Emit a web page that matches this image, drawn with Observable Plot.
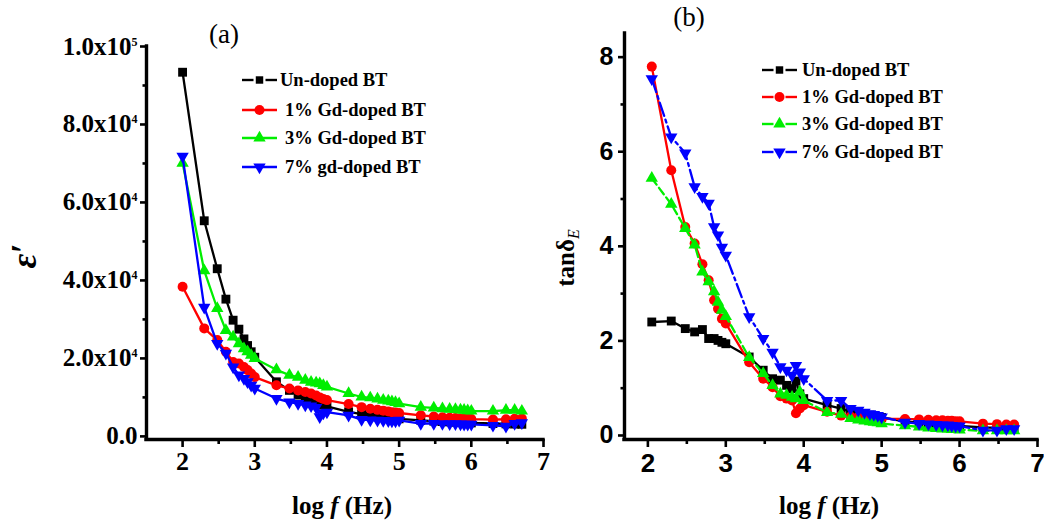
<!DOCTYPE html>
<html><head><meta charset="utf-8">
<script src="https://cdn.jsdelivr.net/npm/d3@7"></script>
<script src="https://cdn.jsdelivr.net/npm/@observablehq/plot@0.6"></script>
<style>
html,body{margin:0;padding:0;background:#fff;}
#wrap{position:relative;width:1044px;height:524px;overflow:hidden;background:#fff;}
#pa{position:absolute;left:0;top:0;}
#pb{position:absolute;left:550px;top:0;}
</style></head><body><div id="wrap"><div id="pa"></div><div id="pb"></div></div>
<script>
// ---- data ----
const logF = [2, 2.3, 2.48, 2.6, 2.7, 2.78, 2.85, 2.9, 2.95, 3,
  3.3, 3.48, 3.6, 3.7, 3.78, 3.85, 3.9, 3.95, 4,
  4.3, 4.48, 4.6, 4.7, 4.78, 4.85, 4.9, 4.95, 5,
  5.3, 5.48, 5.6, 5.7, 5.78, 5.85, 5.9, 5.95, 6,
  6.3, 6.48, 6.6, 6.7];
const logFb = [2.05, 2.3, 2.48, 2.6, 2.7, 2.78, 2.85, 2.9, 2.95, 3,
  3.3, 3.48, 3.6, 3.7, 3.78, 3.85, 3.9, 3.95, 4,
  4.3, 4.48, 4.6, 4.7, 4.78, 4.85, 4.9, 4.95, 5,
  5.3, 5.48, 5.6, 5.7, 5.78, 5.85, 5.9, 5.95, 6,
  6.3, 6.48, 6.6, 6.7];

const epsUndoped = [93400, 55300, 43000, 35200, 29800, 27500, 25000, 23300, 21700, 20300,
  14000, 11800, 10600, 9900, 9300, 8800, 8400, 8000, 7700,
  6300, 5700, 5300, 5100, 4900, 4800, 4700, 4600, 4500,
  4100, 3900, 3800, 3700, 3650, 3600, 3550, 3500, 3450,
  3300, 3200, 3150, 3100];
const epsGd1 = [38400, 27700, 24700, 21700, 19100, 18700, 17800, 17000, 16100, 15200,
  13100, 12300, 11800, 11400, 11000, 10500, 10000, 9600, 9300,
  8300, 7500, 7100, 6800, 6600, 6400, 6200, 6100, 6000,
  5400, 5100, 4900, 4800, 4700, 4600, 4550, 4500, 4450,
  4300, 4400, 4500, 4600];
const epsGd3 = [70100, 42500, 32800, 27200, 25500, 23800, 22500, 21700, 20800, 20000,
  17100, 15700, 15200, 14400, 13900, 13700, 13500, 13100, 12700,
  11000, 10100, 9900, 9600, 9300, 9100, 8900, 8700, 8400,
  7500, 7300, 7100, 7000, 6900, 6800, 6700, 6600, 6500,
  6500, 6700, 6700, 6500];
const epsGd7 = [71800, 33100, 23800, 21300, 17800, 15700, 14800, 14000, 13100, 12300,
  9700, 8800, 8400, 8000, 7800, 7400, 5000, 6000, 6200,
  5400, 4300, 4200, 4100, 4050, 4000, 3950, 3900, 4100,
  3300, 3300, 3250, 3200, 3200, 3150, 3100, 3100, 3100,
  2800, 2600, 3300, 3500];

const tanUndoped = [2.40, 2.42, 2.26, 2.19, 2.24, 2.05, 2.05, 2.01, 1.97, 1.94,
  1.66, 1.38, 1.20, 1.17, 1.06, 0.99, 1.15, 0.88, 0.78,
  0.64, 0.57, 0.50, 0.47, 0.45, 0.43, 0.41, 0.40, 0.38,
  0.30, 0.27, 0.25, 0.24, 0.23, 0.22, 0.21, 0.21, 0.20,
  0.17, 0.16, 0.15, 0.15];
const tanGd1 = [7.80, 5.61, 4.41, 4.06, 3.62, 3.28, 2.86, 2.68, 2.47, 2.37,
  1.55, 1.20, 1.02, 0.83, 0.78, 0.74, 0.47, 0.57, 0.64,
  0.50, 0.42, 0.40, 0.39, 0.38, 0.37, 0.36, 0.36, 0.35,
  0.35, 0.34, 0.33, 0.32, 0.32, 0.31, 0.31, 0.30, 0.30,
  0.25, 0.24, 0.23, 0.23];
const tanGd3 = [5.44, 4.89, 4.38, 4.03, 3.46, 3.25, 3.04, 2.82, 2.65, 2.52,
  1.65, 1.31, 1.06, 0.88, 0.85, 0.81, 0.78, 0.92, 0.74,
  0.49, 0.45, 0.36, 0.33, 0.31, 0.29, 0.28, 0.27, 0.25,
  0.21, 0.18, 0.16, 0.15, 0.14, 0.14, 0.13, 0.13, 0.12,
  0.10, 0.10, 0.10, 0.10];
const tanGd7 = [7.54, 6.31, 5.97, 5.26, 5.05, 4.91, 4.41, 4.24, 3.98, 3.81,
  2.51, 2.05, 1.76, 1.45, 1.38, 1.27, 1.48, 1.34, 1.20,
  0.74, 0.74, 0.57, 0.53, 0.49, 0.46, 0.44, 0.42, 0.39,
  0.28, 0.25, 0.24, 0.23, 0.22, 0.22, 0.21, 0.20, 0.20,
  0.11, 0.11, 0.14, 0.14];

const labelsA = ["Un-doped BT", "1% Gd-doped BT", "3% Gd-doped BT", "7% gd-doped BT"];
const labelsB = ["Un-doped BT", "1% Gd-doped BT", "3% Gd-doped BT", "7% Gd-doped BT"];
const xMajor = [2, 3, 4, 5, 6, 7];
const xMinor = [2.5, 3.5, 4.5, 5.5, 6.5];
const yMajorA = [0, 20000, 40000, 60000, 80000, 100000];
const yTickLabelsA = ["0.0", "2.0x10^4", "4.0x10^4", "6.0x10^4", "8.0x10^4", "1.0x10^5"];
const yMinorA = [10000, 30000, 50000, 70000, 90000];
const yMajorB = [0, 2, 4, 6, 8];
const yMinorB = [1, 3, 5, 7];

// ---- styles ----
const colors = ["#000000", "#ff0000", "#00ee00", "#0000ff"];
const symbols = ["square", "circle", "triangle", "triangle"];
const rotates = [0, 0, 0, 180];
const radii = [5, 5, 4.6, 4.6];
const dashesB = [null, null, "8,4", "14,4,3,4"];

function rows(xs, ys) { return xs.map((x, i) => ({x, y: ys[i]})); }

function seriesMarks(list, xs, dashes, width) {
  const out = [];
  list.forEach((ys, k) => {
    const d = rows(xs, ys);
    out.push(Plot.line(d, {x: "x", y: "y", stroke: colors[k], strokeWidth: width, strokeDasharray: dashes[k] || undefined}));
    out.push(Plot.dot(d, {x: "x", y: "y", fill: colors[k], stroke: "none", symbol: symbols[k], rotate: rotates[k], r: radii[k]}));
  });
  return out;
}

const serif = '"Liberation Serif", "Times New Roman", serif';
const sans = '"Liberation Sans", Arial, sans-serif';

// ---- panel (a) ----
const svgA = Plot.plot({
  width: 550, height: 524,
  marginLeft: 146, marginRight: 7, marginTop: 46, marginBottom: 85,
  x: {domain: [1.5, 7], label: null},
  y: {domain: [-800, 100000], label: null},
  style: {fontFamily: serif, fontWeight: "bold", color: "#000", background: "transparent", overflow: "visible"},
  marks: [
    Plot.axisX({ticks: xMajor, tickSize: 8, tickPadding: 4, tickFormat: d => String(d), fontSize: 26, strokeWidth: 2.6, label: null}),
    Plot.axisX({ticks: xMinor, tickSize: 5, tickFormat: () => "", strokeWidth: 2.6, label: null}),
    Plot.axisY({ticks: yMajorA, tickSize: 6, tickPadding: 3, tickFormat: d => yTickLabelsA[yMajorA.indexOf(d)], fontSize: 25, strokeWidth: 2.6, label: null}),
    Plot.axisY({ticks: yMinorA, tickSize: 3.5, tickFormat: () => "", strokeWidth: 2.6, label: null}),
    ...seriesMarks([epsUndoped, epsGd1, epsGd3, epsGd7], logF, [null, null, null, null], 2.3),
    Plot.ruleX([1.5], {strokeWidth: 3.4, strokeLinecap: "square"}),
    Plot.ruleY([-800], {strokeWidth: 3.4, strokeLinecap: "square"})
  ]
});
document.getElementById("pa").appendChild(svgA);

// ---- panel (b) ----
const svgB = Plot.plot({
  width: 494, height: 524,
  marginLeft: 74, marginRight: 7, marginTop: 33, marginBottom: 85,
  x: {domain: [1.7, 7], label: null},
  y: {domain: [-0.085, 8.5], label: null},
  style: {fontFamily: sans, fontWeight: "bold", color: "#000", background: "transparent", overflow: "visible"},
  marks: [
    Plot.axisX({ticks: xMajor, tickSize: 8, tickPadding: 6, tickFormat: d => String(d), fontSize: 26, strokeWidth: 2.6, label: null}),
    Plot.axisX({ticks: xMinor, tickSize: 5, tickFormat: () => "", strokeWidth: 2.6, label: null}),
    Plot.axisY({ticks: yMajorB, tickSize: 6, tickPadding: 5, tickFormat: d => String(d), fontSize: 25, strokeWidth: 2.6, label: null}),
    Plot.axisY({ticks: yMinorB, tickSize: 3.5, tickFormat: () => "", strokeWidth: 2.6, label: null}),
    ...seriesMarks([tanUndoped, tanGd1, tanGd3, tanGd7], logFb, dashesB, 2.3),
    Plot.ruleX([1.7], {strokeWidth: 3.4, strokeLinecap: "square"}),
    Plot.ruleY([-0.085], {strokeWidth: 3.4, strokeLinecap: "square"})
  ]
});
document.getElementById("pb").appendChild(svgB);

// enforce fonts on tick labels
d3.select(svgA).selectAll('g[aria-label$="tick label"] text')
  .style("font-family", serif).style("font-weight", "bold");
d3.select(svgB).selectAll('g[aria-label$="tick label"] text')
  .style("font-family", sans).style("font-weight", "bold");

// superscripts on panel (a) y tick labels
d3.select(svgA).selectAll('g[aria-label="y-axis tick label"] text').each(function () {
  const t = d3.select(this);
  const parts = t.text().split("^");
  t.text(parts[0]);
  if (parts[1]) t.append("tspan").attr("dy", "-9").style("font-size", "12px").text(parts[1]);
});

// ---- annotations ----
function addText(svg, x, y, parts, opts) {
  const t = d3.select(svg).append("text").attr("x", x).attr("y", y)
    .attr("text-anchor", "middle").attr("fill", "#000")
    .style("font-family", serif).style("font-size", opts.size + "px").style("font-weight", opts.weight || "bold");
  if (opts.rotate) t.attr("transform", `rotate(-90 ${x} ${y})`);
  parts.forEach(p => {
    const s = t.append("tspan").text(p.t);
    if (p.italic) s.style("font-style", "italic");
    if (p.size) s.style("font-size", p.size + "px");
    if (p.dy) s.attr("dy", p.dy);
    if (p.weight) s.style("font-weight", p.weight);
  });
  return t;
}
addText(svgA, 224, 43, [{t: "(a)"}], {size: 27, weight: "normal"});
addText(svgB, 139, 26, [{t: "(b)"}], {size: 27, weight: "normal"});
addText(svgA, 342, 514, [{t: "log "}, {t: "f", italic: true}, {t: " (Hz)"}], {size: 25});
addText(svgB, 279, 514, [{t: "log "}, {t: "f", italic: true}, {t: " (Hz)"}], {size: 25});
addText(svgA, 36, 256, [{t: "ε′", italic: true}], {size: 36, rotate: true});
addText(svgB, 24, 258, [{t: "tanδ"}, {t: "E", italic: true, size: 16, dy: 5, weight: "normal"}], {size: 25, rotate: true});

// ---- legends ----
function legend(svg, labels, x0, x1, txs, ys, gapped) {
  const g = d3.select(svg).append("g");
  labels.forEach((lab, k) => {
    const y = ys[k], cx = (x0 + x1) / 2;
    if (gapped[k]) {
      g.append("line").attr("x1", x0).attr("x2", cx - 6).attr("y1", y).attr("y2", y).attr("stroke", colors[k]).attr("stroke-width", 2.4);
      g.append("line").attr("x1", cx + 6).attr("x2", x1).attr("y1", y).attr("y2", y).attr("stroke", colors[k]).attr("stroke-width", 2.4);
    } else {
      g.append("line").attr("x1", x0).attr("x2", x1).attr("y1", y).attr("y2", y).attr("stroke", colors[k]).attr("stroke-width", 2.4);
    }
    const sym = {square: d3.symbolSquare, circle: d3.symbolCircle, triangle: d3.symbolTriangle}[symbols[k]];
    const r = k === 0 ? 4.2 : radii[k];
    g.append("path").attr("d", d3.symbol(sym, Math.PI * r * r)())
      .attr("transform", `translate(${cx},${y}) rotate(${rotates[k]})`).attr("fill", colors[k]);
    g.append("text").attr("x", txs[k]).attr("y", y).attr("dy", "0.34em").attr("fill", "#000")
      .attr("text-anchor", "start")
      .style("font-family", serif).style("font-weight", "bold").style("font-size", "18.5px").text(lab);
  });
}
legend(svgA, labelsA, 242, 277, [280, 285, 285, 285], [80, 110, 138, 167], [true, false, false, false]);
legend(svgB, labelsB, 212, 247, [252, 252, 252, 252], [70, 97, 124, 152], [true, true, true, true]);
</script></body></html>
